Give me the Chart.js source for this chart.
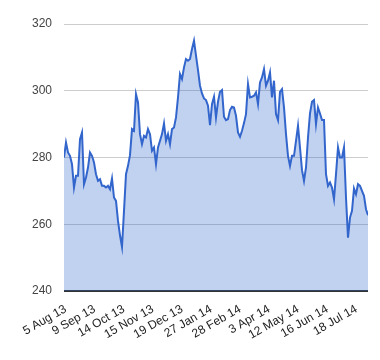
<!DOCTYPE html>
<html>
<head>
<meta charset="utf-8">
<script src="https://cdn.jsdelivr.net/npm/chart.js@4/dist/chart.umd.min.js"></script>
<style>
  html, body { margin: 0; padding: 0; background: #fff; }
</style>
</head>
<body>
<canvas id="chart" width="380" height="360"></canvas>
<script>
// closing prices, roughly every other trading day, Aug 2013 - Jul 2014
const prices = [
  280.0, 284.5, 281.5, 280.5, 278.0, 271.0, 274.5, 274.5, 285.5, 287.5,
  272.0, 274.0, 277.0, 281.5, 280.5, 278.5, 275.0, 273.0, 273.5, 271.5,
  271.5, 271.0, 271.5, 270.5, 273.7, 268.0, 267.0, 261.0, 256.7, 253.2,
  264.0, 275.0, 277.5, 280.7, 288.5, 288.0, 299.0, 296.5, 287.0, 284.0,
  286.5, 286.0, 288.5, 287.0, 282.0, 283.0, 278.0, 283.0, 285.0, 287.0,
  290.2, 285.0, 287.0, 284.0, 288.5, 289.0, 292.0, 298.0, 305.0, 303.5,
  307.0, 309.5, 309.0, 309.5, 312.5, 315.0, 310.5, 306.2, 301.5, 299.2,
  297.7, 297.2, 295.5, 289.7, 296.0, 298.2, 292.0, 296.7, 299.7, 300.2,
  292.2, 291.2, 291.5, 294.2, 295.2, 295.0, 292.5, 287.5, 286.2, 288.0,
  290.3, 293.0, 302.0, 298.0, 298.2, 298.5, 299.5, 296.0, 302.5, 304.0,
  306.5, 301.5, 303.0, 305.5, 298.0, 303.0, 293.0, 291.2, 299.7, 300.5,
  295.0, 287.0, 280.5, 277.5, 280.5, 280.5, 285.0, 289.5, 283.0, 276.2,
  273.0, 277.0, 286.0, 293.2, 296.7, 297.2, 290.0, 295.0, 293.2, 291.2,
  291.2, 275.0, 271.5, 272.5, 271.0, 267.5, 275.0, 283.0, 280.0, 280.0,
  283.0, 268.0, 256.0, 262.0, 264.0, 270.7, 269.0, 272.0, 271.5, 270.0,
  268.5, 264.5, 262.7
];

const tickLabels = [
  "5 Aug 13", "9 Sep 13", "14 Oct 13", "15 Nov 13", "19 Dec 13", "27 Jan 14",
  "28 Feb 14", "3 Apr 14", "12 May 14", "16 Jun 14", "18 Jul 14"
];
// where each date falls along the price series
const tickPos = [0.8, 15.3, 29.9, 44.4, 59, 73.5, 88, 102.6, 117.1, 131.7, 146.2];

const yMin = 240;
const yMax = 320;
const yStep = 20;

const font = { family: '"Liberation Sans", Arial, sans-serif', size: 12 };

const chart = new Chart(document.getElementById("chart"), {
  type: "line",
  data: {
    datasets: [
      {
        data: prices.map((v, i) => ({ x: i, y: v })),
        borderColor: "#3366cc",
        backgroundColor: "rgba(51, 102, 204, 0.3)",
        borderWidth: 2,
        fill: "start",
        pointRadius: 0,
        tension: 0,
      },
    ],
  },
  options: {
    responsive: false,
    animation: false,
    layout: { padding: { top: 24, right: 12, left: 0, bottom: 0 } },
    plugins: {
      legend: { display: false },
      tooltip: { enabled: false },
    },
    scales: {
      x: {
        type: "linear",
        min: 0,
        max: prices.length - 1,
        grid: { display: false },
        border: { display: false },
        afterBuildTicks(scale) {
          scale.ticks = tickPos.map((v) => ({ value: v }));
        },
        afterFit(scale) {
          scale.height = 69;
        },
        ticks: {
          autoSkip: false,
          minRotation: 30,
          maxRotation: 30,
          padding: 3,
          color: "#222",
          font: font,
          callback: (value, index) => tickLabels[index],
        },
      },
      y: {
        min: yMin,
        max: yMax,
        border: { display: false },
        grid: {
          drawTicks: false,
          color: (ctx) => (ctx.tick && ctx.tick.value === yMin ? "#333" : "#ccc"),
          lineWidth: (ctx) => (ctx.tick && ctx.tick.value === yMin ? 2 : 1),
        },
        afterFit(scale) {
          scale.width = 64;
        },
        ticks: {
          stepSize: yStep,
          padding: 12,
          color: "#444",
          font: font,
        },
      },
    },
  },
});
</script>
</body>
</html>
